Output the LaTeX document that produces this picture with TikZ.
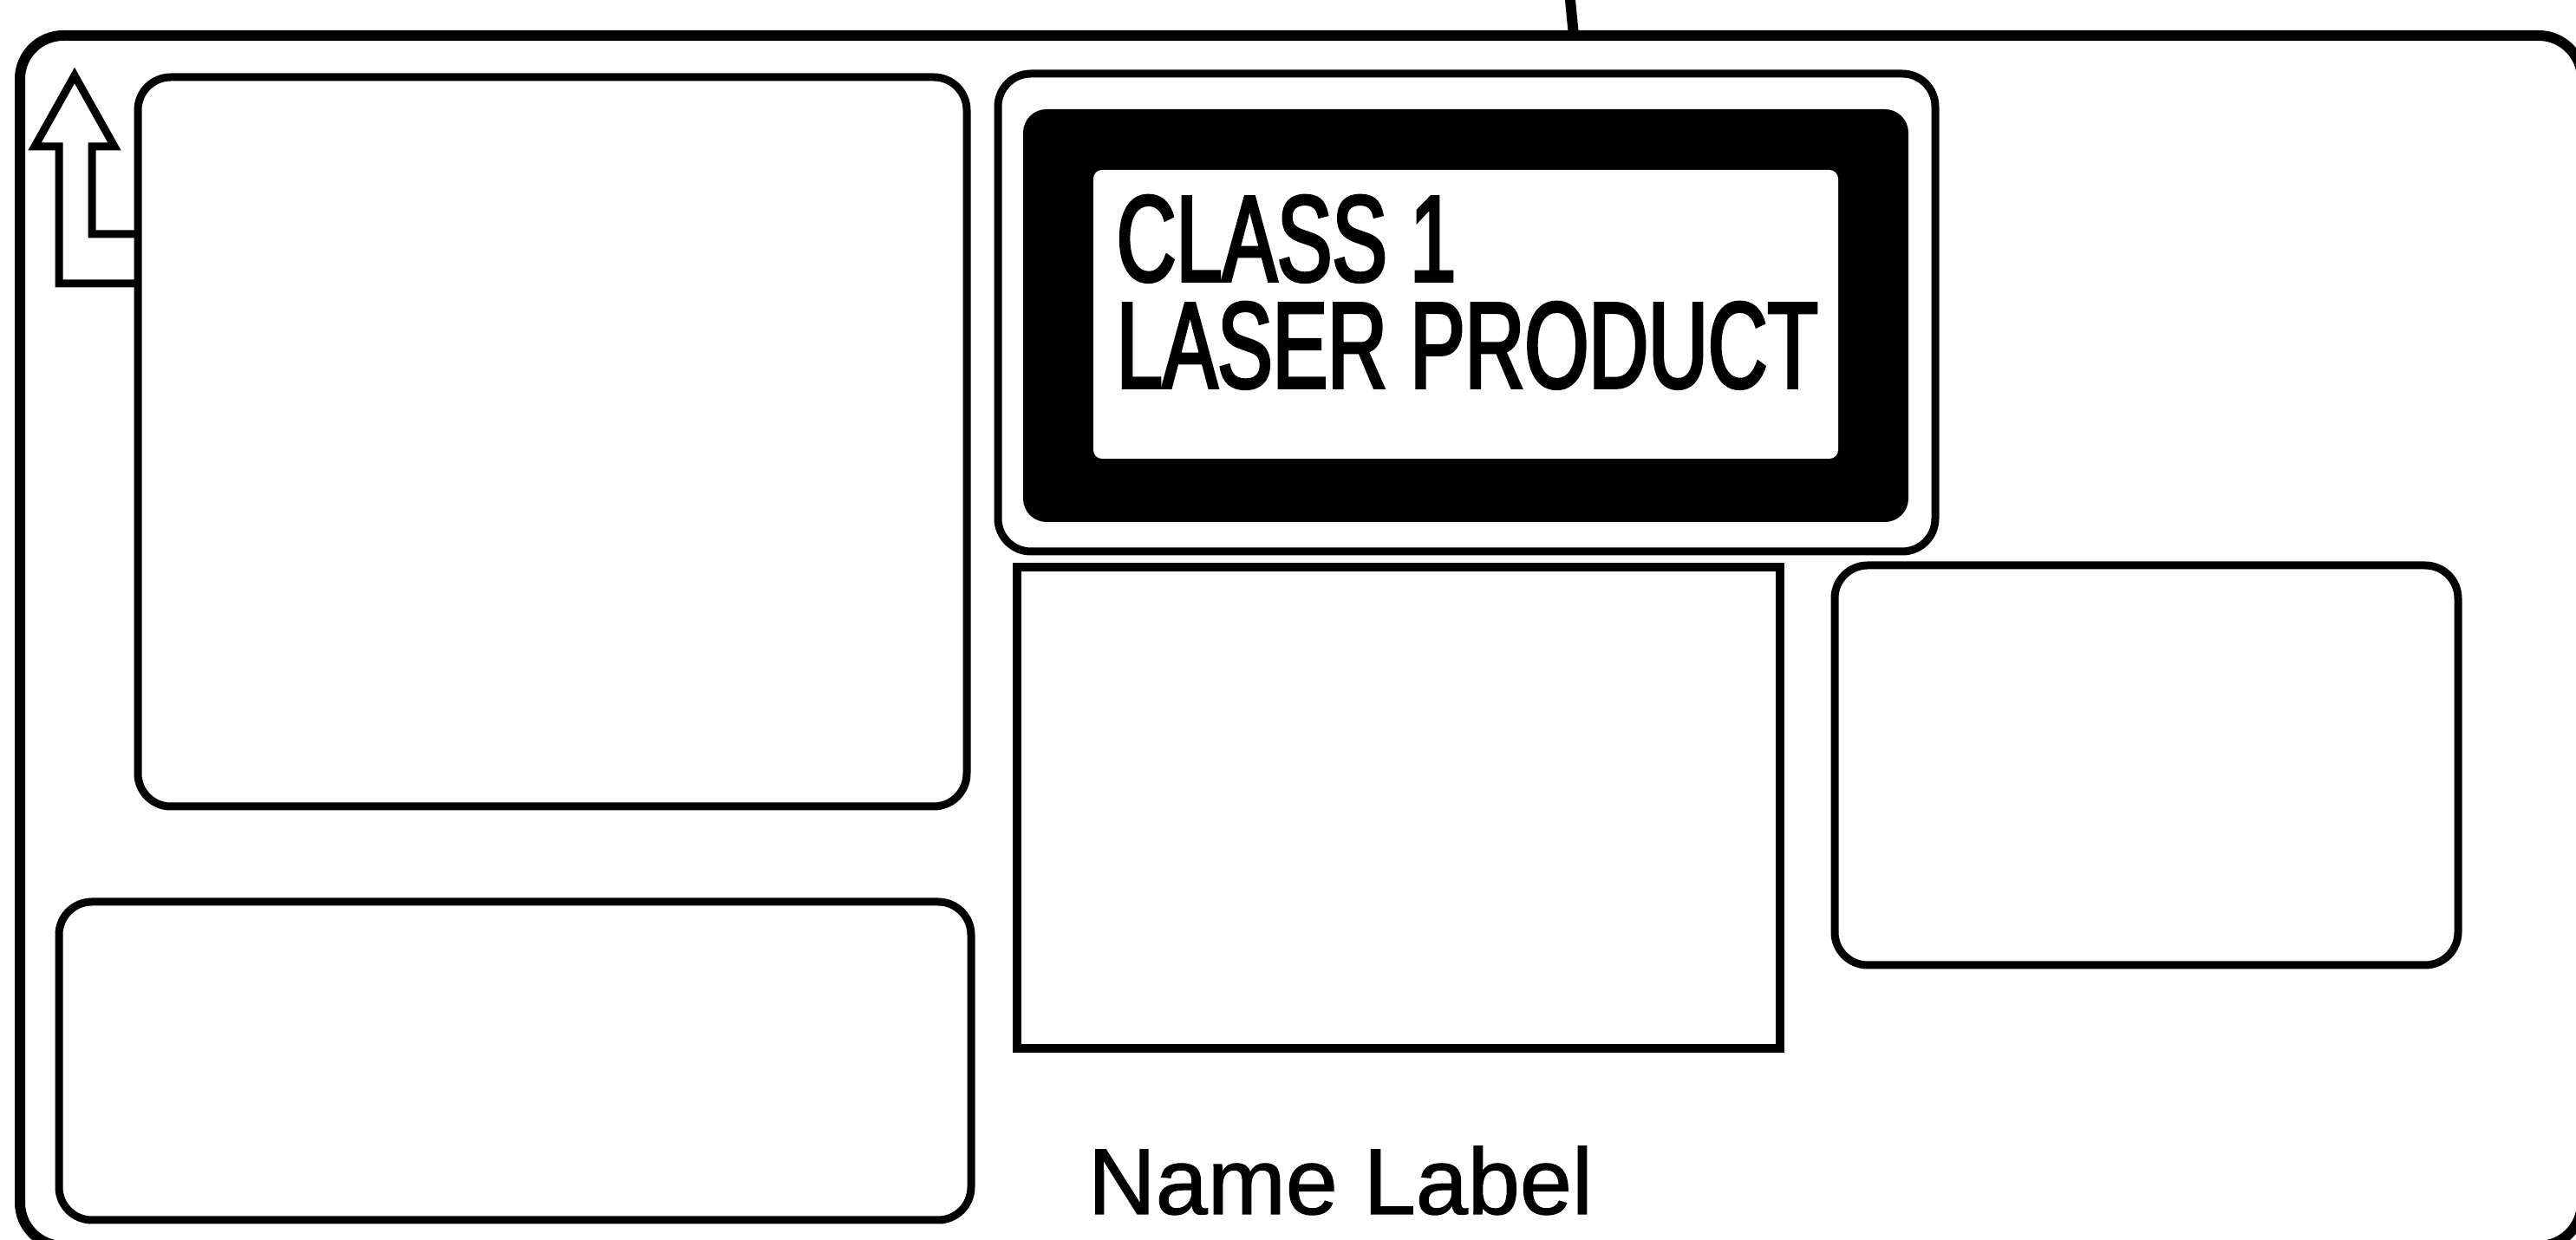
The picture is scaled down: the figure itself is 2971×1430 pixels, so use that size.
\documentclass[tikz,border=0pt]{standalone}
\usepackage{fontspec}
\setmainfont{Liberation Sans}
\newfontfamily\narrowfont[FakeStretch=0.674,FakeBold=2.5]{Liberation Sans}
\newfontfamily\labelfont[FakeBold=1.2]{Liberation Sans}
\tikzset{
  frameline/.style={draw=black, line width=3pt, rounded corners=12.5pt},
  boxline/.style={draw=black, line width=2.25pt, rounded corners=9.5pt},
  plainbox/.style={draw=black, line width=2.5pt},
  arrowline/.style={draw=black, line width=2.25pt, miter limit=10},
  lasertext/.style={inner sep=0pt, anchor=base west, text height=25.5pt, text depth=0pt, font=\narrowfont\fontsize{35.3pt}{30.75pt}\selectfont},
  nametext/.style={inner sep=0pt, anchor=base west, font=\labelfont\fontsize{27pt}{32pt}\selectfont}
}
\begin{document}
\begin{tikzpicture}[x=0.25pt,y=-0.25pt]
\useasboundingbox (0,0) rectangle (2971,1430);
\fill[white] (0,0) rectangle (2971,1430);
\clip (0,0) rectangle (2971,1430);
% outer frame (extends past right and bottom edges)
\draw[frameline] (23,41) rectangle (2978,1437);
\draw[line width=3pt] (1810,-10) -- (1815,41);
% top-left box with arrow
\draw[boxline] (159,89) rectangle (1115,930);
\draw[arrowline] (159,270) -- (106,270) -- (106,169) -- (132,169) -- (86,87) -- (40,169) -- (68,169) -- (68,327) -- (159,327);
% bottom-left box
\draw[boxline] (68,1040) rectangle (1120,1407);
% laser label
\draw[boxline] (1151,85) rectangle (2232,636);
\fill[black, rounded corners=6.75pt] (1180,126) rectangle (2201,602);
\fill[white, rounded corners=2.5pt] (1261,196) rectangle (2120,529);
\node[lasertext] (class1) at (1287,324) {CLASS 1};
\node[lasertext] (laserprod) at (1287,447) {LASER PRODUCT};
% middle rectangle
\draw[plainbox] (1173,654) rectangle (2053,1209);
% right box
\draw[boxline] (2116,652) rectangle (2835,1113);
% name label
\node[nametext] (namelabel) at (1254,1400) {Name Label};
\end{tikzpicture}
\end{document}
